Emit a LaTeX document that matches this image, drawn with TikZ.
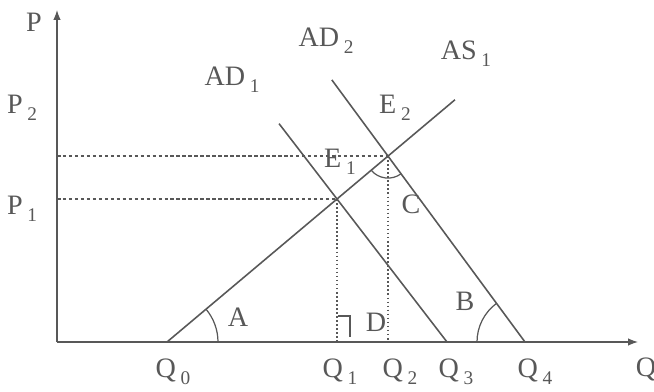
\documentclass[tikz,border=0pt]{standalone}
\usepackage{fontspec}
\setmainfont{Liberation Serif}
\usepackage{tikz}
\usetikzlibrary{arrows.meta,calc,angles,positioning}
\definecolor{ink}{RGB}{88,88,88}
\newcommand{\sbs}[1]{\,\raisebox{-0.55ex}{\fontsize{11}{12}\selectfont #1}}
\tikzset{
  axis/.style={draw=ink,line width=0.7pt,-{Latex[length=2mm,width=1.5mm]}},
  curve/.style={draw=ink,line width=0.9pt},
  guide/.style={draw=ink,line width=0.7pt,dash pattern=on 2pt off 1.4pt},
  drop/.style={draw=ink,line width=0.7pt,dash pattern=on 0.9pt off 1.4pt},
  anglemark/.style={draw=ink,line width=0.7pt},
  lbl/.style={text=ink,font=\fontsize{16}{18}\selectfont,inner sep=1pt},
}

\begin{document}
\begin{tikzpicture}[x=0.02cm,y=-0.02cm]
\useasboundingbox (0,0) rectangle (654,392);

% axes
\coordinate (O) at (57,342);
\coordinate (ytop) at (57,10);
\coordinate (xend) at (638,342);
\draw[axis] (O) -- (ytop);
\draw[axis] (O) -- (xend);

% equilibrium points and curve ends
\coordinate (Q0) at (167,342);
\coordinate (E1) at (337,199);
\coordinate (E2) at ($(Q0)!1.3!(E1)$);
\coordinate (AStop) at ($(Q0)!1.694!(E1)$);
\coordinate (Q3) at (447,342);
\coordinate (AD1top) at ($(Q3)!1.527!(E1)$);
\coordinate (Q4) at (525,342);
\coordinate (AD2top) at ($(Q4)!1.41!(E2)$);

% guide lines
\draw[guide] (O |- E2) -- (E2);
\draw[guide] (O |- E1) -- (E1);
\draw[drop] (E1) -- (E1 |- O);
\draw[drop] (E2) -- (E2 |- O);

% curves
\draw[curve] (Q0) -- (AStop);
\draw[curve] (AD1top) -- (Q3);
\draw[curve] (AD2top) -- (Q4);

% angle marks
\pic[anglemark,angle radius=1.02cm] {angle=Q3--Q0--E1};
\pic[anglemark,angle radius=0.96cm] {angle=E2--Q4--O};
\pic[anglemark,angle radius=0.44cm] {angle=Q0--E2--Q4};
\coordinate (Q1foot) at (E1 |- O);
\draw[anglemark] ($(Q1foot)+(1,-26)$) -- ($(Q1foot)+(13,-26)$) -- ($(Q1foot)+(13,-5)$);

% labels
\node[lbl] (Plbl) at (34,22) {P};
\node[lbl] (P2lbl) at (22,108) {P\sbs{2}};
\node[lbl] (P1lbl) at (22,209) {P\sbs{1}};
\node[lbl] (AD1lbl) at (232,80) {AD\sbs{1}};
\node[lbl] (AD2lbl) at (326,41) {AD\sbs{2}};
\node[lbl] (AS1lbl) at (466,54) {AS\sbs{1}};
\node[lbl] (E2lbl) at (395,108) {E\sbs{2}};
\node[lbl] (E1lbl) at (340,162) {E\sbs{1}};
\node[lbl] (Clbl) at (411,204) {C};
\node[lbl] (Albl) at (238,317) {A};
\node[lbl] (Blbl) at (465,301) {B};
\node[lbl] (Dlbl) at (376,322) {D};
\node[lbl] (Q0lbl) at (173,372) {Q\sbs{0}};
\node[lbl] (Q1lbl) at (340,372) {Q\sbs{1}};
\node[lbl] (Q2lbl) at (400,372) {Q\sbs{2}};
\node[lbl] (Q3lbl) at (456,372) {Q\sbs{3}};
\node[lbl] (Q4lbl) at (535,372) {Q\sbs{4}};
\node[lbl] (Qlbl) at (646,369) {Q};
\end{tikzpicture}
\end{document}
